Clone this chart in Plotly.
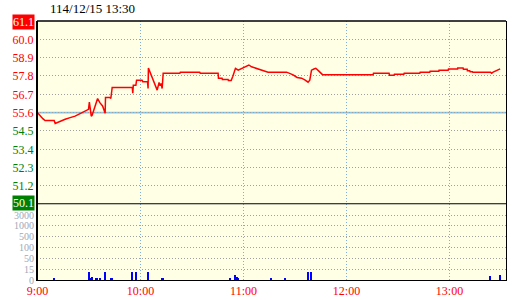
import numpy as np
import plotly.graph_objects as go

# ---------------- data ----------------
title_text = "114/12/15 13:30"
prev_close = 55.6
price_ticks = [50.1, 51.2, 52.3, 53.4, 54.5, 55.6, 56.7, 57.8, 58.9, 60.0, 61.1]
time_ticks = [0, 60, 120, 180, 240]          # minutes after 9:00
time_labels = ["9:00", "10:00", "11:00", "12:00", "13:00"]
time_range = [-0.3, 272.9]
vol_levels = [0, 15, 50, 100, 500, 1000, 3000]
vol_labels = ["0", "15", "50", "100", "500", "1000", "3000"]

price_min = [0, 1.6, 3.1, 4.4, 9.7, 10.3, 13.2, 16.1, 19.0, 21.9, 24.8, 27.7, 29.7,
             30.2, 31.3, 31.8, 33.4, 35.0, 36.3, 37.9, 39.4, 39.6, 42.1, 42.7, 43.5,
             55.2, 55.5, 55.8, 57.3, 57.7, 60.9, 61.3, 64.1, 64.4, 64.6, 69.3, 69.7,
             70.8, 71.4, 72.0, 72.6, 73.2, 82.9, 83.2, 94.5, 94.8, 105.2, 105.4, 107.5,
             107.7, 111.0, 111.2, 112.8, 113.8, 115.3, 116.9, 118.8, 120.8, 123.1,
             124.7, 127.6, 130.5, 132.4, 134.3, 145.1, 147.0, 148.9, 151.2, 153.8,
             155.7, 157.6, 158.6, 159.6, 161.0, 162.1, 163.9, 166.0, 195.5, 195.7,
             204.8, 205.0, 207.7, 207.9, 213.4, 213.6, 222.7, 222.9, 228.5, 228.7,
             233.8, 233.9, 239.2, 239.4, 244.7, 244.8, 247.9, 248.1, 250.3, 250.4,
             251.8, 252.0, 253.4, 253.6, 263.9, 264.5, 265.4, 267.0, 268.3, 269.5]
price_val = [55.60, 55.39, 55.24, 55.13, 55.13, 54.95, 55.09, 55.20, 55.30, 55.39, 55.54, 55.70, 55.80,
             56.24, 55.39, 55.44, 55.90, 56.45, 56.20, 56.00, 55.56, 56.51, 56.51, 56.45, 57.11,
             57.11, 56.77, 57.25, 57.25, 57.55, 57.55, 57.46, 57.46, 57.05, 58.28, 57.05, 56.95,
             57.41, 57.21, 57.35, 57.05, 57.96, 57.96, 58.02, 58.02, 57.96, 57.96, 57.67, 57.67,
             57.59, 57.59, 57.53, 57.53, 57.79, 58.26, 58.15, 58.26, 58.35, 58.46,
             58.35, 58.26, 58.15, 58.11, 58.03, 58.03, 57.96, 57.87, 57.71, 57.67,
             57.57, 57.43, 57.55, 58.15, 58.22, 58.26, 58.09, 57.88, 57.88, 57.96,
             57.96, 57.85, 57.85, 57.90, 57.90, 57.96, 57.96, 58.02, 58.02, 58.09,
             58.09, 58.15, 58.15, 58.22, 58.22, 58.28, 58.28, 58.20, 58.20, 58.11,
             58.11, 58.05, 58.05, 58.02, 58.02, 57.96, 58.03, 58.11, 58.20, 58.23]

vol_min = [9.7, 30.1, 31.0, 31.8, 34.0, 34.6, 36.5, 39.4, 42.8, 43.4, 55.1, 57.4, 64.4,
           72.6, 73.2, 112.2, 115.1, 116.1, 116.7, 136.1, 144.2, 157.6, 159.4, 263.7, 269.5]
vol_val = [3, 10, 3, 4, 3, 3, 1, 11, 3, 1, 10, 11, 10, 3, 3, 1, 7, 4, 1, 1, 1, 10, 10, 5, 7]

# ---------------- styling ----------------
FONT = "Liberation Serif, Times New Roman, serif"
UP = "#FF0000"
DOWN = "#008000"
VOLC = "#A0A8B8"
DOT = "1px,2px"

vol_band = np.interp(vol_val, vol_levels, np.arange(len(vol_levels)))

pmax, pmin = max(price_ticks), min(price_ticks)
ticktext = []
for p in price_ticks:
    if p in (pmax, pmin):
        ticktext.append("")          # drawn as boxed annotations below
    else:
        c = UP if p >= prev_close else DOWN
        ticktext.append(f'<span style="color:{c}">{p:.1f}</span>')

fig = go.Figure()
fig.add_trace(go.Scatter(x=price_min, y=price_val, mode="lines",
                         line=dict(color="#FF0000", width=1.5),
                         xaxis="x", yaxis="y", hoverinfo="skip"))
fig.add_trace(go.Bar(x=vol_min, y=vol_band, width=0.5,
                     marker=dict(color="#0000FF", line=dict(width=0)),
                     xaxis="x", yaxis="y2", hoverinfo="skip"))

split = (280 - 204.3) / 259

fig.update_layout(
    width=520, height=300,
    margin=dict(l=37, r=14, t=21, b=20, autoexpand=False),
    paper_bgcolor="white", plot_bgcolor="#FFFFE6",
    showlegend=False, bargap=0,
    title=dict(text=title_text, x=50 / 520, xanchor="left", xref="container",
               y=1 - 8 / 300, yanchor="middle", yref="container",
               font=dict(family=FONT, size=13, color="black")),
    xaxis=dict(range=time_range, anchor="y2", tickvals=time_ticks, ticktext=time_labels,
               showgrid=True, gridcolor="#7FB0DA", griddash=DOT, gridwidth=1,
               tickfont=dict(family=FONT, size=12, color=UP), automargin=False,
               showline=True, linecolor="black", linewidth=1, ticks="", zeroline=False),
    yaxis=dict(domain=[split, 1], range=[pmin, pmax], tickvals=price_ticks, ticktext=ticktext,
               showgrid=True, gridcolor="#A0A0A0", griddash=DOT, gridwidth=1,
               tickfont=dict(family=FONT, size=12), automargin=False,
               showline=True, linecolor="black", linewidth=1, mirror=True,
               ticks="", zeroline=False),
    yaxis2=dict(domain=[0, split], range=[0, len(vol_levels)], tickvals=list(range(len(vol_levels))),
                ticktext=vol_labels, automargin=False,
                showgrid=True, gridcolor="#A0A0A0", griddash=DOT, gridwidth=1,
                tickfont=dict(family=FONT, size=10, color=VOLC),
                showline=True, linecolor="black", linewidth=1, mirror=True,
                ticks="", zeroline=False),
)

# boxed limit-up / limit-down labels
for val, bg, ys in [(pmax, UP, -0.5), (pmin, DOWN, 1.5)]:
    fig.add_annotation(xref="paper", x=0, xanchor="right", xshift=-2,
                       yref="y", y=val, yanchor="middle", yshift=ys,
                       text=f"{val:.1f}", showarrow=False, bgcolor=bg, borderpad=0,
                       font=dict(family=FONT, size=12, color="white"))

shapes = [
    # previous close reference line
    dict(type="line", xref="x", x0=time_range[0], x1=time_range[1], yref="y",
         y0=prev_close, y1=prev_close,
         line=dict(color="#8EC5E6", width=1.6), layer="below"),
    # separator between price and volume panels
    dict(type="line", xref="paper", x0=0, x1=1, yref="y", y0=pmin, y1=pmin,
         line=dict(color="black", width=2), layer="above"),
    # top border
    dict(type="line", xref="paper", x0=0, x1=1, yref="paper", y0=1, y1=1,
         line=dict(color="black", width=1.5), layer="above"),
    # left border thicker
    dict(type="line", xref="paper", x0=0, x1=0, yref="paper", y0=0, y1=1,
         line=dict(color="black", width=2), layer="above"),
]
fig.update_layout(shapes=shapes)

fig.write_html("out.html")
